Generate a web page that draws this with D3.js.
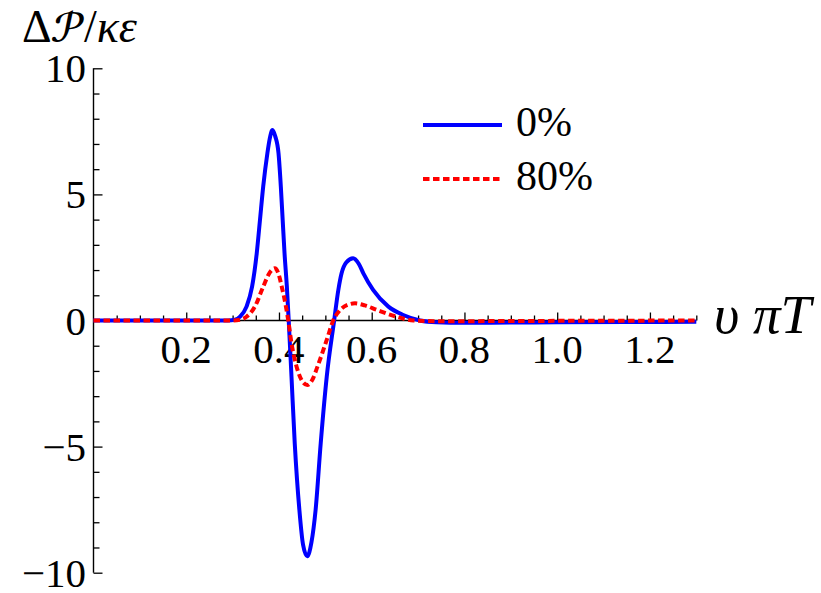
<!DOCTYPE html>
<html>
<head>
<meta charset="utf-8">
<script src="https://cdn.jsdelivr.net/npm/d3@7"></script>
<style>
  body { margin: 0; background: #fff; }
</style>
</head>
<body>
<div id="chart"></div>
<script>
// curve for 0% (blue, solid)
const x0pct = [0, 0.29, 0.305, 0.316, 0.330, 0.342, 0.352, 0.359, 0.366, 0.375, 0.380, 0.386, 0.392,
  0.399, 0.404, 0.408, 0.412, 0.417, 0.421, 0.427, 0.434, 0.444, 0.452, 0.461, 0.470, 0.479, 0.490,
  0.503, 0.519, 0.528, 0.535, 0.545, 0.560, 0.572, 0.582, 0.603, 0.636, 0.668, 0.704, 0.74, 0.80,
  0.90, 1.0, 1.15, 1.3];
const y0pct = [0, 0, 0.03, 0.15, 0.55, 1.34, 2.66, 3.98, 5.31, 6.63, 7.2, 7.55, 7.3,
  6.63, 5.31, 3.98, 2.66, 1.34, 0, -2.23, -4.87, -7.51, -8.9, -9.35, -8.8, -7.51, -4.87,
  -2.23, 0, 1.21, 1.87, 2.3, 2.47, 2.25, 1.87, 1.21, 0.55, 0.22, 0, -0.07, -0.09,
  -0.08, -0.07, -0.06, -0.05];

// curve for 80% (red, dashed)
const x80pct = [0, 0.30, 0.318, 0.330, 0.348, 0.366, 0.380, 0.391, 0.399, 0.406, 0.415, 0.420,
  0.427, 0.438, 0.450, 0.461, 0.472, 0.483, 0.503, 0.517, 0.532, 0.548, 0.564, 0.585, 0.611,
  0.654, 0.69, 0.75, 0.9, 1.3];
const y80pct = [0, 0, 0.04, 0.15, 0.55, 1.34, 1.9, 2.07, 1.85, 1.34, 0.55, 0,
  -0.9, -1.83, -2.4, -2.56, -2.35, -1.83, -0.77, 0, 0.42, 0.62, 0.68, 0.6, 0.42,
  0.15, 0, -0.03, -0.02, 0];

const xTicks = [0.2, 0.4, 0.6, 0.8, 1.0, 1.2];
const yTicks = [-10, -5, 0, 5, 10];
const legendLabels = ["0%", "80%"];

const width = 821, height = 593;
const serif = "Liberation Serif";

const svg = d3.select("#chart").append("svg")
  .attr("width", width)
  .attr("height", height);

const x = d3.scaleLinear().domain([0, 1.3]).range([93.5, 696.3]);
const y = d3.scaleLinear().domain([-10, 10]).range([572.7, 68.3]);

// minor ticks
const xMinor = d3.range(1, 27).map(i => i * 0.05).filter((v, i) => (i + 1) % 4 !== 0);
const yMinor = d3.range(-10, 11).filter(v => v % 5 !== 0);

// x axis
svg.append("g")
  .attr("transform", `translate(0,${y(0)})`)
  .call(d3.axisTop(x).tickValues(xMinor).tickSize(5).tickFormat("").tickSizeOuter(0))
  .call(g => g.select(".domain").remove())
  .selectAll("line").attr("stroke", "#000").attr("stroke-width", 1.3);

svg.append("g")
  .attr("transform", `translate(0,${y(0)})`)
  .call(d3.axisTop(x).tickValues(xTicks).tickSize(8).tickFormat("").tickSizeOuter(0))
  .call(g => g.select(".domain").attr("stroke", "#000").attr("stroke-width", 1.4)
    .attr("d", `M${x(0)},0H${x(1.3)}`))
  .selectAll("line").attr("stroke", "#000").attr("stroke-width", 1.3);

svg.append("g").selectAll("text")
  .data(xTicks)
  .join("text")
  .attr("x", d => x(d))
  .attr("y", 363)
  .attr("text-anchor", "middle")
  .attr("font-family", serif)
  .attr("font-size", 41)
  .text(d => d.toFixed(1));

// y axis
svg.append("g")
  .attr("transform", `translate(${x(0)},0)`)
  .call(d3.axisRight(y).tickValues(yMinor).tickSize(6).tickFormat("").tickSizeOuter(0))
  .call(g => g.select(".domain").remove())
  .selectAll("line").attr("stroke", "#000").attr("stroke-width", 1.3);

svg.append("g")
  .attr("transform", `translate(${x(0)},0)`)
  .call(d3.axisRight(y).tickValues(yTicks).tickSize(9).tickFormat("").tickSizeOuter(0))
  .call(g => g.select(".domain").attr("stroke", "#000").attr("stroke-width", 1.4)
    .attr("d", `M0,${y(10)}V${y(-10)}`))
  .selectAll("line").attr("stroke", "#000").attr("stroke-width", 1.3);

svg.append("g").selectAll("text")
  .data(yTicks)
  .join("text")
  .attr("x", 86)
  .attr("y", d => y(d) + 14)
  .attr("text-anchor", "end")
  .attr("font-family", serif)
  .attr("font-size", 41)
  .text(d => d < 0 ? "\u2212" + Math.abs(d) : d);

// axis titles
const yTitle = svg.append("text")
  .attr("x", 22)
  .attr("y", 42)
  .attr("font-family", serif)
  .attr("font-size", 46);
yTitle.append("tspan").text("Δ");
yTitle.append("tspan").attr("font-family", "STIX Two Math").text("𝒫");
yTitle.append("tspan").text("/");
yTitle.append("tspan").attr("font-style", "italic").text("κε");

svg.append("text")
  .attr("x", 714)
  .attr("y", 333)
  .attr("font-family", serif)
  .attr("font-size", 55)
  .attr("font-style", "italic")
  .text("υ πT");

// curves
const line = d3.line()
  .x(d => x(d[0]))
  .y(d => y(d[1]))
  .curve(d3.curveMonotoneX);

svg.append("path")
  .datum(x0pct.map((v, i) => [v, y0pct[i]]))
  .attr("fill", "none")
  .attr("stroke", "#0000ff")
  .attr("stroke-width", 4)
  .attr("d", line);

svg.append("path")
  .datum(x80pct.map((v, i) => [v, y80pct[i]]))
  .attr("fill", "none")
  .attr("stroke", "#ff0000")
  .attr("stroke-width", 4)
  .attr("stroke-dasharray", "6.5,3.5")
  .attr("d", line);

// legend
const legend = svg.append("g");
const legendY = [125, 179];
legendLabels.forEach((lab, i) => {
  legend.append("line")
    .attr("x1", 423).attr("x2", 502)
    .attr("y1", legendY[i]).attr("y2", legendY[i])
    .attr("stroke", i === 0 ? "#0000ff" : "#ff0000")
    .attr("stroke-width", 4)
    .attr("stroke-dasharray", i === 0 ? null : "6.5,3.5");
  legend.append("text")
    .attr("x", 516)
    .attr("y", legendY[i] + 11)
    .attr("font-family", serif)
    .attr("font-size", 42)
    .text(lab);
});
</script>
</body>
</html>
